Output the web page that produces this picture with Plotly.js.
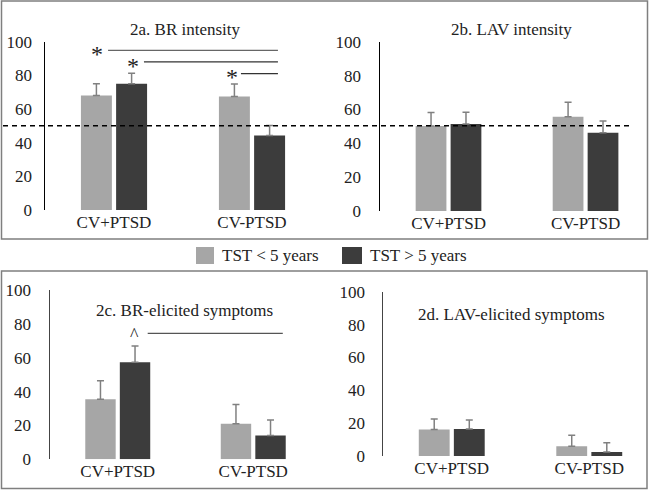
<!DOCTYPE html>
<html>
<head>
<meta charset="utf-8">
<script src="https://cdn.plot.ly/plotly-3.0.1.min.js"></script>
<style>html,body{margin:0;padding:0;background:#fff;}#chart{width:649px;height:491px;}</style>
</head>
<body>
<div id="chart"></div>
<script>
// ---- data ----
const categories = ['CV+PTSD', 'CV-PTSD'];
const seriesNames = ['TST < 5 years', 'TST > 5 years'];
const yTicks = [0, 20, 40, 60, 80, 100];

const brIntensityShort = [68, 67.5];
const brIntensityShortErr = [7, 7.3];
const brIntensityLong = [75, 44.2];
const brIntensityLongErr = [6.2, 6];

const lavIntensityShort = [50.2, 55.7];
const lavIntensityShortErr = [8, 8.5];
const lavIntensityLong = [51.4, 46.2];
const lavIntensityLongErr = [7, 7];

const brSymptomsShort = [35.4, 21];
const brSymptomsShortErr = [11, 11.3];
const brSymptomsLong = [57.3, 14];
const brSymptomsLongErr = [9.6, 9.2];

const lavSymptomsShort = [16.2, 5.9];
const lavSymptomsShortErr = [6.3, 6.7];
const lavSymptomsLong = [16.4, 2.4];
const lavSymptomsLongErr = [5.5, 5.7];

const referenceLevel = 50;
const panelTitles = ['2a. BR intensity', '2b. LAV intensity', '2c. BR-elicited symptoms', '2d. LAV-elicited symptoms'];

// ---- styling ----
const FONT = '"Times New Roman", "Liberation Serif", serif';
const LIGHT = '#a6a6a6';
const DARK = '#3c3c3c';
const ERRC = '#808080';
const seriesColors = [LIGHT, DARK];

function bar(vals, errs, color, name, xa, ya) {
  return {
    type: 'bar', x: categories, y: vals, name: name,
    xaxis: xa, yaxis: ya, showlegend: false,
    marker: {color: color, line: {width: 0}},
    error_y: {type: 'data', symmetric: false, array: errs, arrayminus: errs.map(() => 0),
              color: ERRC, thickness: 1.5, width: 3.5},
    hoverinfo: 'skip'
  };
}

const traces = [
  bar(brIntensityShort, brIntensityShortErr, LIGHT, seriesNames[0], 'x', 'y'),
  bar(brIntensityLong, brIntensityLongErr, DARK, seriesNames[1], 'x', 'y'),
  bar(lavIntensityShort, lavIntensityShortErr, LIGHT, seriesNames[0], 'x2', 'y2'),
  bar(lavIntensityLong, lavIntensityLongErr, DARK, seriesNames[1], 'x2', 'y2'),
  bar(brSymptomsShort, brSymptomsShortErr, LIGHT, seriesNames[0], 'x3', 'y3'),
  bar(brSymptomsLong, brSymptomsLongErr, DARK, seriesNames[1], 'x3', 'y3'),
  bar(lavSymptomsShort, lavSymptomsShortErr, LIGHT, seriesNames[0], 'x4', 'y4'),
  bar(lavSymptomsLong, lavSymptomsLongErr, DARK, seriesNames[1], 'x4', 'y4')
];

function xaxis(domain, range, anchor) {
  return {domain: domain, range: range, anchor: anchor, type: 'category',
          showline: false, showgrid: false, zeroline: false, ticks: '',
          tickfont: {family: FONT, size: 17, color: '#222'}, fixedrange: true};
}
function yaxis(domain, anchor, lineColor, standoff) {
  return {domain: domain, anchor: anchor, range: [0, 100], tickvals: yTicks,
          showline: true, linecolor: lineColor, linewidth: 1.5, showgrid: false, zeroline: false,
          ticks: '', ticklabelstandoff: standoff,
          tickfont: {family: FONT, size: 17, color: '#222'}, fixedrange: true};
}

const W = 649, H = 491;
const px = v => v / W;
const py = v => 1 - v / H;

// legend drawn as swatches + labels (pixel positions of the legend row)
const legendSwatchX = [[196, 214], [342, 362]];
const legendTextX = [220, 368];
const legendShapes = seriesColors.map((c, i) => ({
  type: 'rect', xref: 'paper', yref: 'paper',
  x0: px(legendSwatchX[i][0]), x1: px(legendSwatchX[i][1]), y0: py(264), y1: py(247),
  fillcolor: c, line: {width: 0}
}));
const legendLabels = seriesNames.map((n, i) => ({
  text: n, xref: 'paper', yref: 'paper', x: px(legendTextX[i]), y: py(255.5), showarrow: false,
  xanchor: 'left', yanchor: 'middle', font: {family: FONT, size: 17, color: '#222'}
}));

const layout = {
  width: W, height: H,
  margin: {l: 0, r: 0, t: 0, b: 0},
  paper_bgcolor: '#fff', plot_bgcolor: 'rgba(0,0,0,0)',
  barmode: 'group', bargap: 0.49, bargroupgap: 0.12,
  font: {family: FONT, color: '#222'},
  showlegend: false,
  xaxis: xaxis([px(45), px(321)], [-0.5, 1.5], 'y'),
  yaxis: yaxis([py(210), py(41.7)], 'x', '#000', 8),
  xaxis2: xaxis([px(380), px(632)], [-0.5, 1.339], 'y2'),
  yaxis2: yaxis([py(211), py(41.7)], 'x2', '#000', 14),
  xaxis3: xaxis([px(50), px(321)], [-0.5, 1.5], 'y3'),
  yaxis3: yaxis([py(459.3), py(290)], 'x3', '#444', 14),
  xaxis4: xaxis([px(383), px(640)], [-0.5, 1.369], 'y4'),
  yaxis4: yaxis([py(456), py(291.7)], 'x4', '#444', 13),
  shapes: [
    {type: 'rect', xref: 'paper', yref: 'paper', x0: px(1.5), x1: px(647.5), y0: py(239), y1: py(1),
     line: {color: '#7f7f7f', width: 1.5}},
    {type: 'rect', xref: 'paper', yref: 'paper', x0: px(1.5), x1: px(647), y0: py(488.5), y1: py(271),
     line: {color: '#7f7f7f', width: 1.5}},
    {type: 'line', xref: 'paper', yref: 'y', x0: px(3), x1: px(632), y0: referenceLevel, y1: referenceLevel,
     line: {color: '#000', width: 1.5, dash: '5px,4px'}, layer: 'above'},
    {type: 'line', xref: 'x', yref: 'y', x0: -0.043, x1: 1.188, y0: 94.8, y1: 94.8, line: {color: '#666', width: 1.2}},
    {type: 'line', xref: 'x', yref: 'y', x0: 0.217, x1: 1.188, y0: 88, y1: 88, line: {color: '#333', width: 1.2}},
    {type: 'line', xref: 'x', yref: 'y', x0: 0.92, x1: 1.188, y0: 81, y1: 81, line: {color: '#333', width: 1.2}},
    {type: 'line', xref: 'x3', yref: 'y3', x0: 0.221, x1: 1.218, y0: 74.4, y1: 74.4, line: {color: '#555', width: 1.2}}
  ].concat(legendShapes),
  annotations: [
    {text: panelTitles[0], xref: 'paper', yref: 'paper', x: px(185), y: py(29), showarrow: false,
     xanchor: 'center', yanchor: 'middle', font: {family: FONT, size: 17, color: '#222'}},
    {text: panelTitles[1], xref: 'paper', yref: 'paper', x: px(511.7), y: py(29), showarrow: false,
     xanchor: 'center', yanchor: 'middle', font: {family: FONT, size: 17, color: '#222'}},
    {text: panelTitles[2], xref: 'paper', yref: 'paper', x: px(184), y: py(310.7), showarrow: false,
     xanchor: 'center', yanchor: 'middle', font: {family: FONT, size: 17, color: '#222'}},
    {text: panelTitles[3], xref: 'paper', yref: 'paper', x: px(511.7), y: py(314), showarrow: false,
     xanchor: 'center', yanchor: 'middle', font: {family: FONT, size: 17, color: '#222'}},
    {text: '*', xref: 'x', yref: 'y', x: -0.123, y: 92.6, showarrow: false, xanchor: 'center', yanchor: 'middle',
     font: {family: FONT, size: 24, color: '#222'}},
    {text: '*', xref: 'x', yref: 'y', x: 0.138, y: 85.8, showarrow: false, xanchor: 'center', yanchor: 'middle',
     font: {family: FONT, size: 24, color: '#222'}},
    {text: '*', xref: 'x', yref: 'y', x: 0.855, y: 78.8, showarrow: false, xanchor: 'center', yanchor: 'middle',
     font: {family: FONT, size: 24, color: '#222'}},
    {text: '^', xref: 'x3', yref: 'y3', x: 0.125, y: 73.6, showarrow: false, xanchor: 'center', yanchor: 'middle',
     font: {family: FONT, size: 18, color: '#222'}}
  ].concat(legendLabels)
};

Plotly.newPlot('chart', traces, layout, {staticPlot: true, displayModeBar: false});
</script>
</body>
</html>
